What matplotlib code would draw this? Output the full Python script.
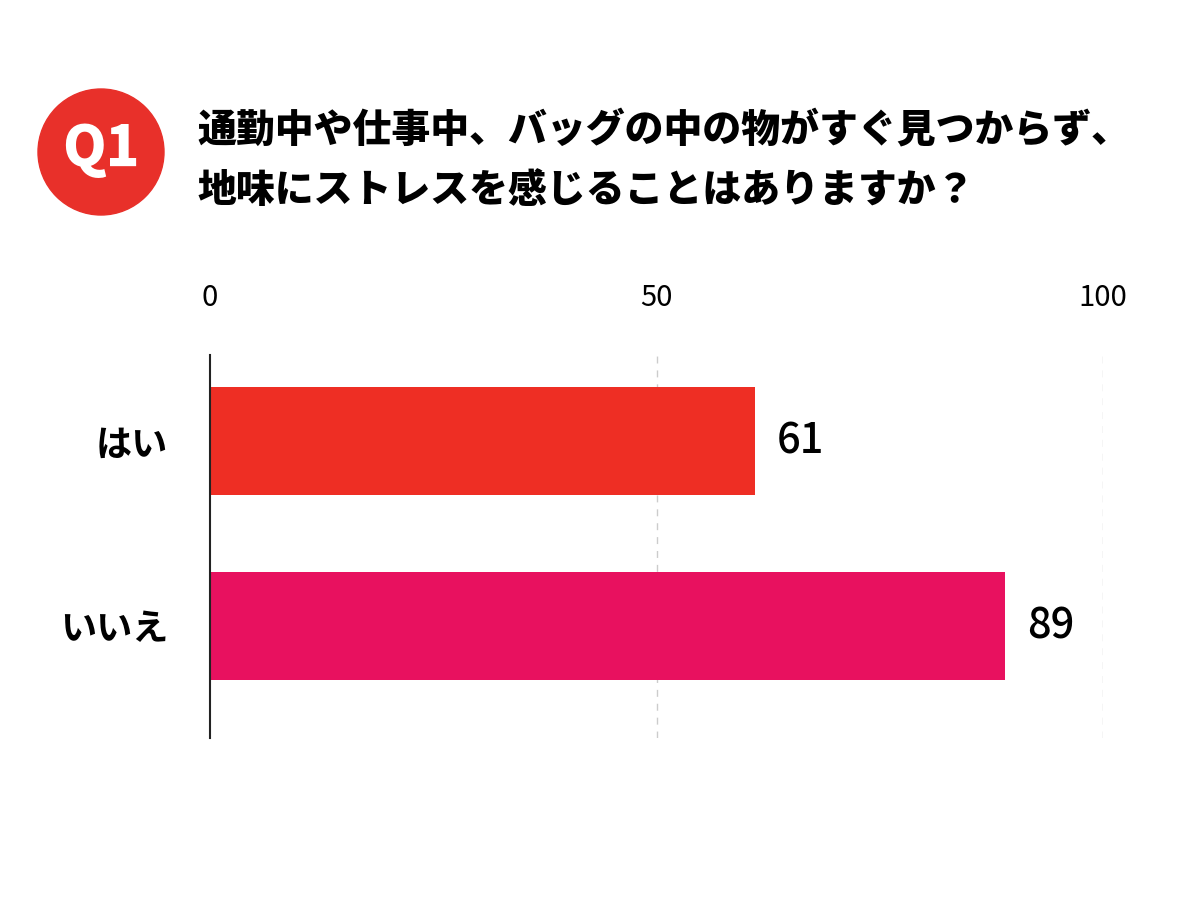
import matplotlib.pyplot as plt
from matplotlib.patches import Ellipse

plt.rcParams['font.family'] = ['Noto Sans CJK JP', 'DejaVu Sans']

# data
categories = ['はい', 'いいえ']
values = [61, 89]
bar_colors = ['#EE2E24', '#E8115F']
ticks = [0, 50, 100]
title_lines = ['通勤中や仕事中、バッグの中の物がすぐ見つからず、',
               '地味にストレスを感じることはありますか？']

fig = plt.figure(figsize=(12, 9), dpi=100)
fig.patch.set_facecolor('white')

# header: red circle with Q1, question text
circle = Ellipse((101 / 1200, 1 - 152 / 900), 126 / 1200, 126 / 900,
                 transform=fig.transFigure, color='#E8302A', zorder=1)
fig.patches.append(circle)
fig.text(101 / 1200, 1 - 150 / 900, 'Q1', color='white', fontsize=40,
         fontweight='heavy', ha='center', va='center')
fig.text(197 / 1200, 1 - 130 / 900, title_lines[0], fontsize=28,
         fontweight='heavy', ha='left', va='center')
fig.text(197 / 1200, 1 - 190 / 900, title_lines[1], fontsize=28,
         fontweight='heavy', ha='left', va='center')

ax = fig.add_axes([210 / 1200, 1 - 738 / 900, (1103 - 210) / 1200, (738 - 355) / 900])
y = list(range(len(categories)))
bars = ax.barh(y, values, height=0.584, color=bar_colors, zorder=3)

ax.set_xlim(0, 100)
ax.set_ylim(1.605, -0.465)

ax.set_xticks(ticks)
ax.xaxis.tick_top()
ax.tick_params(axis='x', length=0, labelsize=21, pad=30)
ax.set_yticks(y)
ax.set_yticklabels(categories, fontsize=26, fontweight='bold')
ax.tick_params(axis='y', length=0, pad=30)

for t in ticks[1:]:
    ax.axvline(t, color='#cccccc', linestyle=(0, (5, 5)), linewidth=1, zorder=1)

for s in ['top', 'right', 'bottom']:
    ax.spines[s].set_visible(False)
ax.spines['left'].set_color('#222222')
ax.spines['left'].set_linewidth(1.5)
ax.spines['left'].set_zorder(4)

for b, v in zip(bars, values):
    ax.annotate(str(v), (v, b.get_y() + b.get_height() / 2),
                xytext=(16, 0), textcoords='offset points',
                ha='left', va='center', fontsize=30, fontweight='medium')

fig.savefig('out.png', dpi=100, facecolor='white')
